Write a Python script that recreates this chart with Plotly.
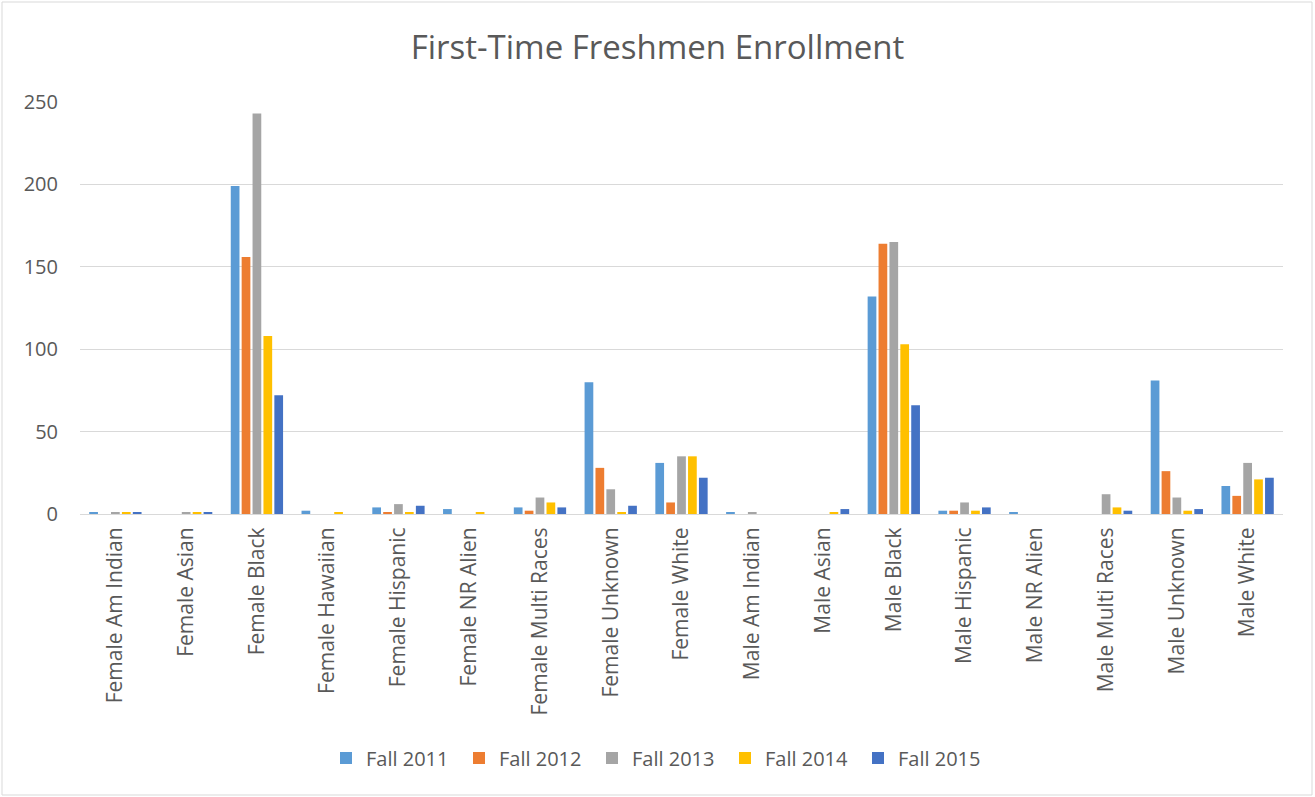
import plotly.graph_objects as go

categories = ["Female Am Indian", "Female Asian", "Female Black", "Female Hawaiian",
              "Female Hispanic", "Female NR Alien", "Female Multi Races", "Female Unknown",
              "Female White", "Male Am Indian", "Male Asian", "Male Black", "Male Hispanic",
              "Male NR Alien", "Male Multi Races", "Male Unknown", "Male White"]

fall_2011 = [1, 0, 199, 2, 4, 3, 4, 80, 31, 1, 0, 132, 2, 1, 0, 81, 17]
fall_2012 = [0, 0, 156, 0, 1, 0, 2, 28, 7, 0, 0, 164, 2, 0, 0, 26, 11]
fall_2013 = [1, 1, 243, 0, 6, 0, 10, 15, 35, 1, 0, 165, 7, 0, 12, 10, 31]
fall_2014 = [1, 1, 108, 1, 1, 1, 7, 1, 35, 0, 1, 103, 2, 0, 4, 2, 21]
fall_2015 = [1, 1, 72, 0, 5, 0, 4, 5, 22, 0, 3, 66, 4, 0, 2, 3, 22]

series_names = ["Fall 2011", "Fall 2012", "Fall 2013", "Fall 2014", "Fall 2015"]
series_values = [fall_2011, fall_2012, fall_2013, fall_2014, fall_2015]
colors = ["#5B9BD5", "#ED7D31", "#A5A5A5", "#FFC000", "#4472C4"]

y_ticks = [0, 50, 100, 150, 200, 250]

fig = go.Figure()
for name, vals, c in zip(series_names, series_values, colors):
    fig.add_trace(go.Bar(x=categories, y=vals, name=name, marker_color=c,
                         marker_line_width=0))

W, H = 1315, 797
ml, mr, mt, mb = 80, 32, 102, 283
pw, ph = W - ml - mr, H - mt - mb

FONT = "Open Sans, Lato, sans-serif"

fig.update_layout(
    width=W, height=H,
    margin=dict(l=ml, r=mr, t=mt, b=mb, autoexpand=False),
    paper_bgcolor="white", plot_bgcolor="white",
    font=dict(family=FONT, color="#595959", size=20),
    title=dict(text="First-Time Freshmen Enrollment", x=0.5, xanchor="center",
               y=1 - 47 / H, yanchor="middle",
               font=dict(family=FONT, size=33, color="#595959")),
    barmode="group", bargap=0.23, bargroupgap=0.2,
    showlegend=True,
    legend=dict(orientation="h", x=0.5 - 23 / pw, xanchor="center",
                y=(H - mb - 758) / ph,
                yanchor="middle", font=dict(family=FONT, size=20, color="#595959"),
                itemwidth=30, traceorder="normal",
                entrywidth=88, entrywidthmode="pixels"),
    xaxis=dict(tickangle=-90, showline=True, linecolor="#d9d9d9", linewidth=1,
               ticks="", tickfont=dict(family=FONT, size=21, color="#595959"),
               automargin=False, ticklabelstandoff=4),
    yaxis=dict(range=[0, 250], tickvals=y_ticks, showgrid=True, gridcolor="#d9d9d9",
               zeroline=False, ticks="", tickfont=dict(family=FONT, size=20, color="#595959"),
               automargin=False, ticklabelstandoff=21),
    shapes=[dict(type="rect", xref="paper", yref="paper",
                 x0=(2 - ml) / pw, x1=(1312 - ml) / pw,
                 y0=(H - mb - 795) / ph, y1=(H - mb - 2) / ph,
                 line=dict(color="#d9d9d9", width=1), layer="below")],
)

fig.write_html("out.html", config={"displayModeBar": False},
               post_script="document.body.style.margin='0px';document.body.style.overflow='hidden';")
